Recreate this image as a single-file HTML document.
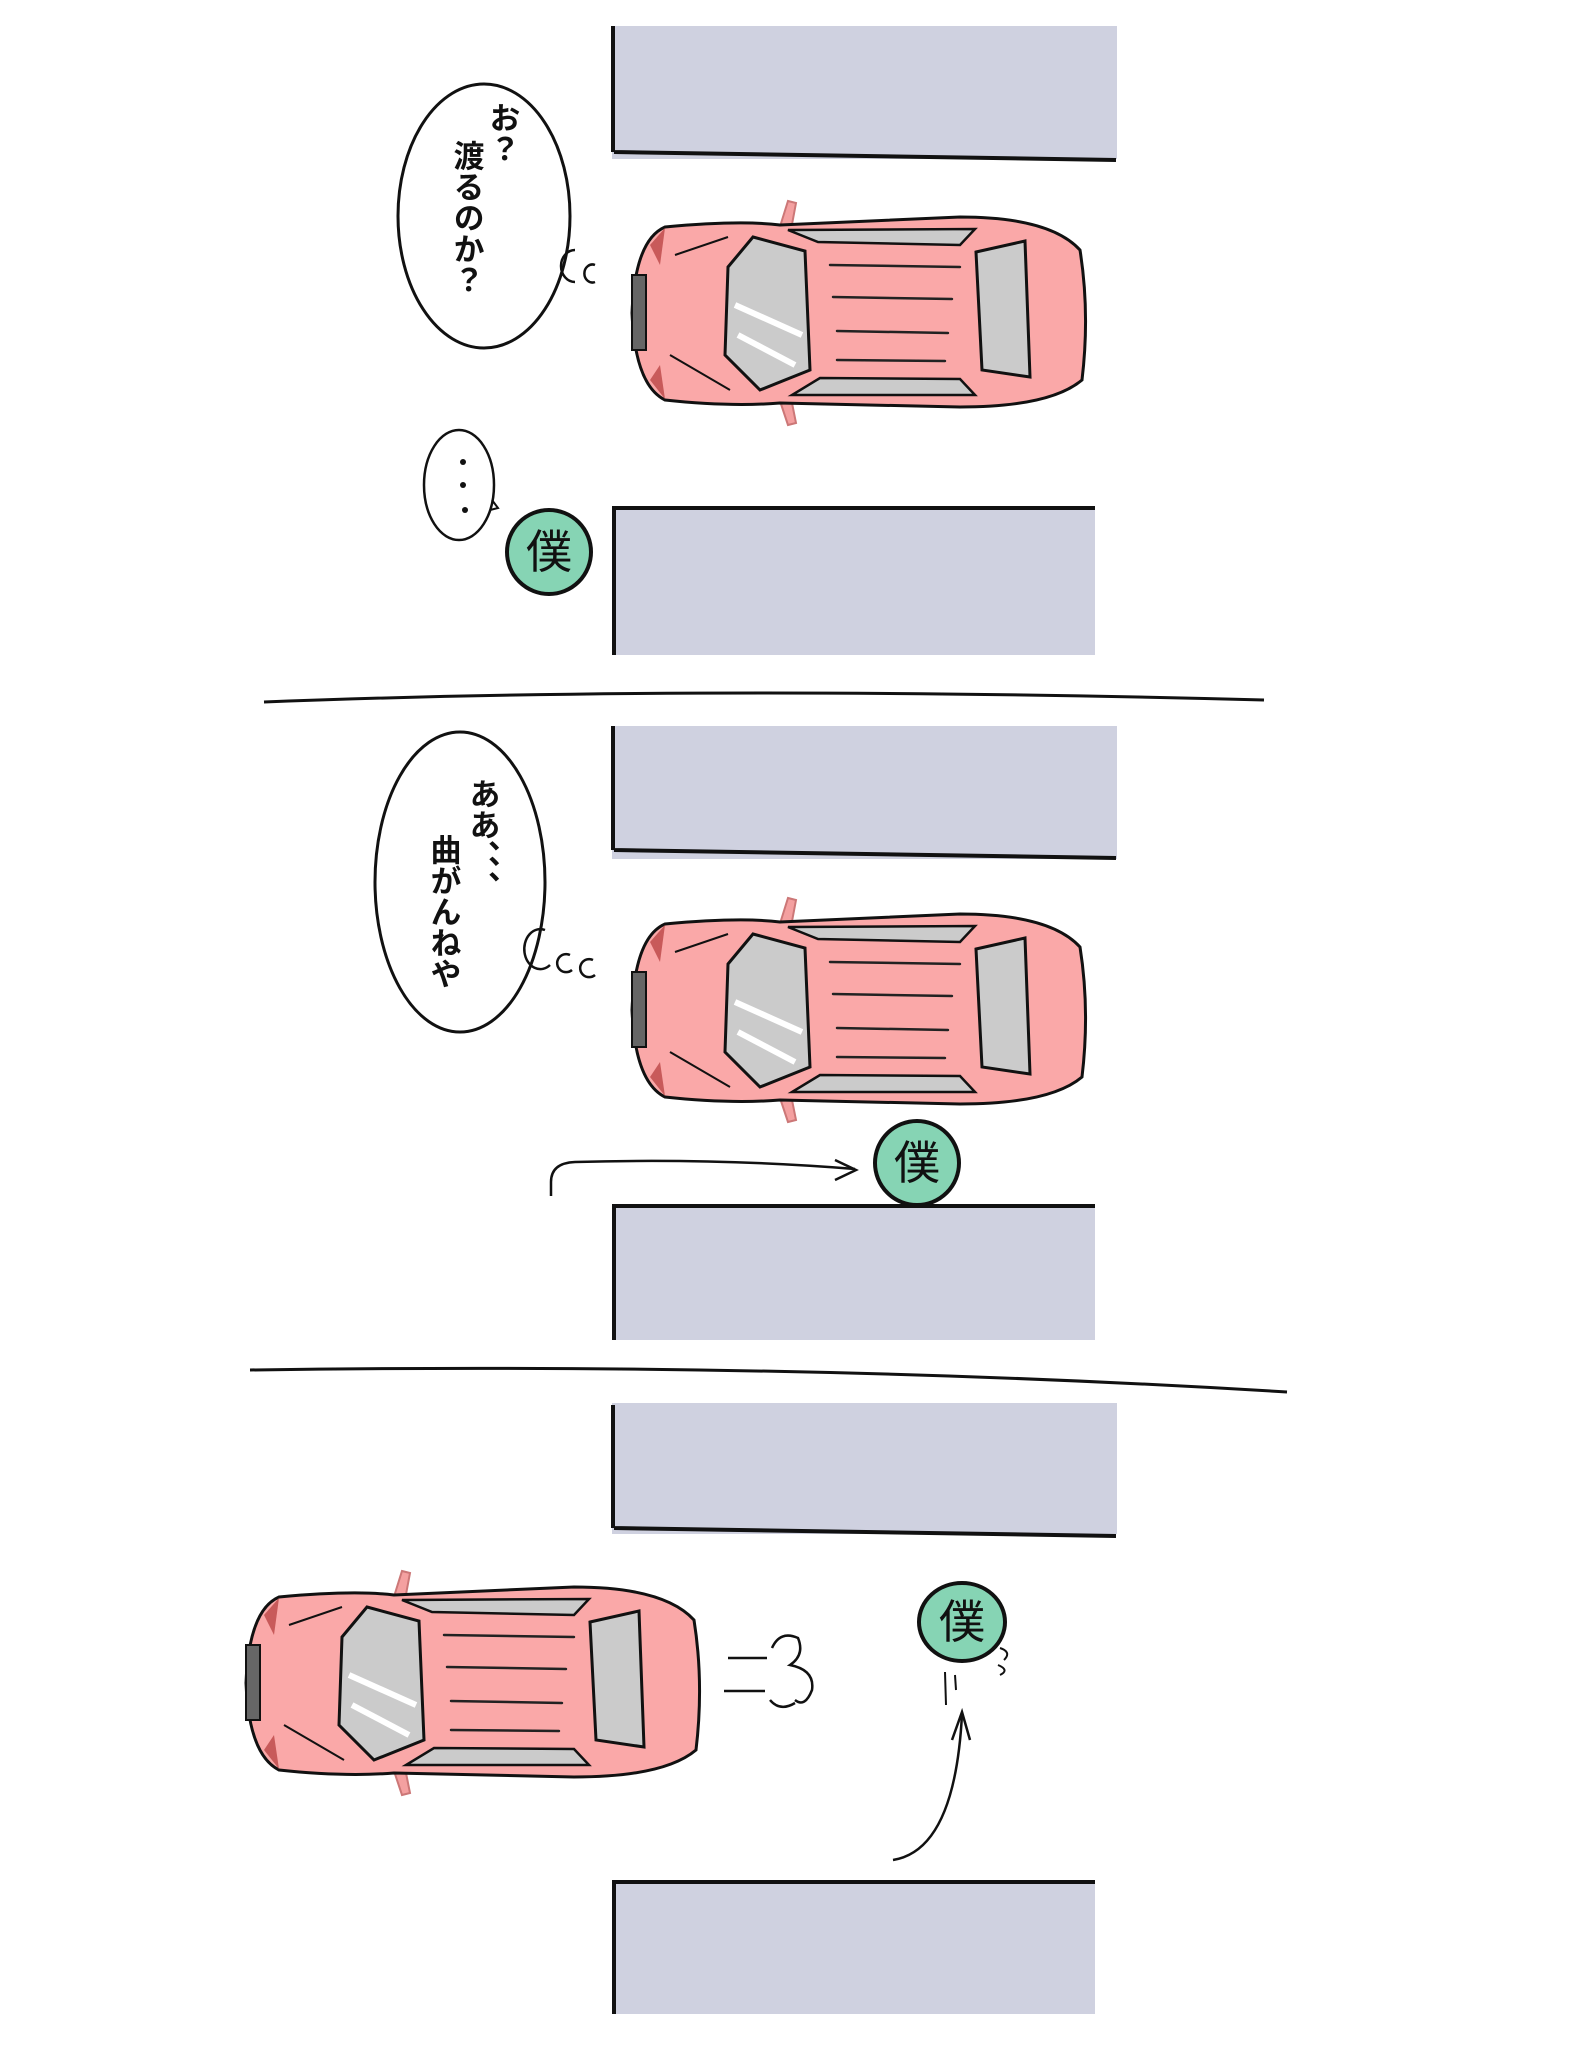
<!DOCTYPE html>
<html><head><meta charset="utf-8"><style>
html,body{margin:0;padding:0;background:#fff;}
svg{display:block;}
text{font-family:"Liberation Sans","Noto Sans CJK JP",sans-serif;}
</style></head><body>
<svg width="1595" height="2048" viewBox="0 0 1595 2048" xmlns="http://www.w3.org/2000/svg">
<defs>
<g id="car">
  <path d="M158,38 L168,6 L176,8 L170,40 Z" fill="#f4a0a0" stroke="#c77" stroke-width="2"/>
  <path d="M158,200 L168,230 L176,228 L170,198 Z" fill="#f4a0a0" stroke="#c77" stroke-width="2"/>
  <path d="M45,32 Q120,25 160,30 L340,22 Q430,22 460,55 Q470,118 462,185 Q430,212 340,212 L160,208 Q110,212 45,205 Q15,190 12,118 Q15,45 45,32 Z" fill="#faa8a8" stroke="#111" stroke-width="3"/>
  <path d="M30,50 L45,33 L40,70 Z" fill="#c85a5a"/>
  <path d="M30,185 L45,204 L40,170 Z" fill="#c85a5a"/>
  <rect x="12" y="80" width="14" height="75" fill="#666" stroke="#111" stroke-width="2"/>
  <path d="M133,42 L185,56 L190,175 L140,195 L105,160 L108,72 Z" fill="#cbcbcb" stroke="#111" stroke-width="3"/>
  <path d="M115,110 L182,140 M118,140 L175,170" stroke="#fff" stroke-width="6"/>
  <path d="M356,57 L405,46 L410,182 L362,175 Z" fill="#cbcbcb" stroke="#111" stroke-width="3"/>
  <path d="M168,35 L355,34 L340,50 L198,47 Z" fill="#cbcbcb" stroke="#111" stroke-width="2.5"/>
  <path d="M172,200 L355,200 L340,184 L200,183 Z" fill="#cbcbcb" stroke="#111" stroke-width="2.5"/>
  <path d="M210,70 L340,72 M213,102 L332,104 M217,136 L328,138 M217,165 L325,166" stroke="#222" stroke-width="2.5" stroke-linecap="round"/>
  <path d="M55,60 L108,42 M50,160 L110,195" stroke="#111" stroke-width="2"/>
</g>
</defs>

<!-- Panel 1 -->
<rect x="612" y="26" width="505" height="133" fill="#cfd1e0"/>
<path d="M613,26 L613,152 M614,152 L1116,160" stroke="#111" stroke-width="4" fill="none"/>
<use href="#car" x="620" y="195"/>
<ellipse cx="484" cy="216" rx="86" ry="132" fill="#fff" stroke="#111" stroke-width="3"/>
<text x="502" y="102" font-size="31" font-weight="bold" style="writing-mode:vertical-rl" fill="#111">お？</text>
<text x="466" y="140" font-size="31" font-weight="bold" style="writing-mode:vertical-rl" fill="#111">渡るのか？</text>
<path d="M575,250 A14,16 0 1 0 575,282" stroke="#111" stroke-width="2.5" fill="none"/>
<path d="M595,265 A8,9 0 1 0 595,282" stroke="#111" stroke-width="2.5" fill="none"/>
<ellipse cx="459" cy="485" rx="35" ry="55" fill="#fff" stroke="#111" stroke-width="2.5"/>
<circle cx="463" cy="462" r="3" fill="#111"/><circle cx="463" cy="485" r="3" fill="#111"/><circle cx="465" cy="510" r="3" fill="#111"/>
<path d="M492,500 L498,508 L490,510" stroke="#111" stroke-width="2" fill="none"/>
<circle cx="549" cy="552" r="42" fill="#86d4b4" stroke="#111" stroke-width="4"/>
<text x="549" y="568" font-size="46" text-anchor="middle" fill="#111">僕</text>
<rect x="612" y="508" width="483" height="147" fill="#cfd1e0"/>
<path d="M612,508 L1095,508 M614,508 L614,655" stroke="#111" stroke-width="4" fill="none"/>

<path d="M264,702 Q700,685 1264,700" stroke="#111" stroke-width="3" fill="none"/>

<!-- Panel 2 -->
<rect x="612" y="726" width="505" height="133" fill="#cfd1e0"/>
<path d="M613,726 L613,850 M614,850 L1116,858" stroke="#111" stroke-width="4" fill="none"/>
<ellipse cx="460" cy="882" rx="85" ry="150" fill="#fff" stroke="#111" stroke-width="3"/>
<text x="482" y="778" font-size="31" font-weight="bold" style="writing-mode:vertical-rl" fill="#111">ああ、、、</text>
<text x="443" y="834" font-size="31" font-weight="bold" style="writing-mode:vertical-rl" fill="#111">曲がんねや</text>
<path d="M545,930 A16,20 0 1 0 550,965" stroke="#111" stroke-width="2.5" fill="none"/>
<path d="M570,955 A9,9 0 1 0 572,970" stroke="#111" stroke-width="2.5" fill="none"/>
<path d="M593,960 A9,9 0 1 0 595,975" stroke="#111" stroke-width="2.5" fill="none"/>
<use href="#car" x="620" y="892"/>
<path d="M551,1196 L551,1182 Q551,1163 575,1162 Q720,1158 855,1169" stroke="#111" stroke-width="2.5" fill="none"/>
<path d="M835,1160 L856,1170 L835,1180" stroke="#111" stroke-width="2.5" fill="none"/>
<circle cx="917" cy="1163" r="42" fill="#86d4b4" stroke="#111" stroke-width="4"/>
<text x="917" y="1179" font-size="46" text-anchor="middle" fill="#111">僕</text>
<rect x="612" y="1206" width="483" height="134" fill="#cfd1e0"/>
<path d="M612,1206 L1095,1206 M614,1206 L614,1340" stroke="#111" stroke-width="4" fill="none"/>

<path d="M250,1370 Q800,1362 1287,1392" stroke="#111" stroke-width="3" fill="none"/>

<!-- Panel 3 -->
<rect x="612" y="1403" width="505" height="131" fill="#cfd1e0"/>
<path d="M613,1405 L613,1528 M614,1528 L1116,1536" stroke="#111" stroke-width="4" fill="none"/>
<use href="#car" x="234" y="1565"/>
<path d="M728,1658 L767,1658 M724,1691 L765,1691" stroke="#111" stroke-width="2.5"/>
<path d="M772,1648 Q780,1630 798,1638 Q805,1655 790,1665 Q815,1670 812,1690 Q805,1708 795,1700 M770,1700 Q780,1712 795,1703" stroke="#111" stroke-width="2.5" fill="none"/>
<ellipse cx="962" cy="1622" rx="43" ry="39" fill="#86d4b4" stroke="#111" stroke-width="4"/>
<text x="962" y="1638" font-size="46" text-anchor="middle" fill="#111">僕</text>
<path d="M945,1672 L946,1705 M955,1675 L956,1690" stroke="#111" stroke-width="2"/>
<path d="M1000,1648 Q1012,1652 1004,1660 M998,1665 Q1010,1670 1000,1675" stroke="#111" stroke-width="2" fill="none"/>
<path d="M893,1860 Q955,1850 962,1714" stroke="#111" stroke-width="2.5" fill="none"/>
<path d="M952,1740 L962,1712 L970,1740" stroke="#111" stroke-width="2.5" fill="none"/>
<rect x="612" y="1882" width="483" height="132" fill="#cfd1e0"/>
<path d="M612,1882 L1095,1882 M614,1882 L614,2014" stroke="#111" stroke-width="4" fill="none"/>
</svg>
</body></html>
